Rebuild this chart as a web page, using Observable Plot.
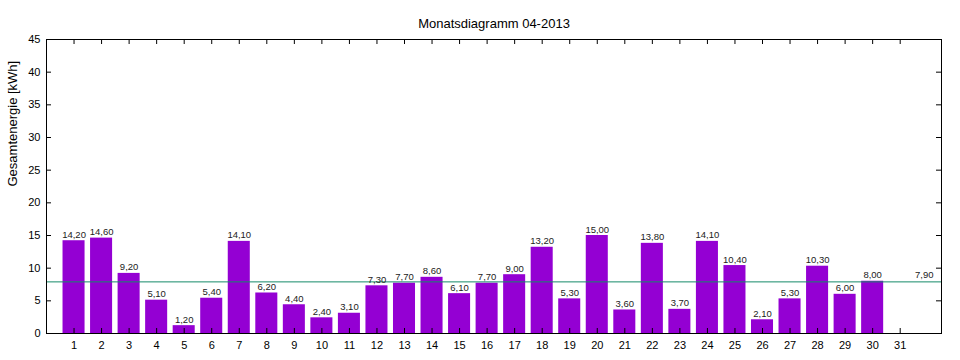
<!DOCTYPE html>
<html>
<head>
<meta charset="utf-8">
<script src="https://cdn.jsdelivr.net/npm/d3@7"></script>
<script src="https://cdn.jsdelivr.net/npm/@observablehq/plot@0.6"></script>
<style>
  html, body { margin: 0; padding: 0; background: #fff; }
  #chart { width: 960px; height: 360px; }
</style>
</head>
<body>
<div id="chart"></div>
<script>
const days = d3.range(1, 32);
const energy = [14.2, 14.6, 9.2, 5.1, 1.2, 5.4, 14.1, 6.2, 4.4, 2.4, 3.1, 7.3, 7.7, 8.6, 6.1,
                7.7, 9.0, 13.2, 5.3, 15.0, 3.6, 13.8, 3.7, 14.1, 10.4, 2.1, 5.3, 10.3, 6.0, 8.0, null];
const average = 7.9;
const yTicks = [0, 5, 10, 15, 20, 25, 30, 35, 40, 45];
const title = "Monatsdiagramm 04-2013";
const yLabel = "Gesamtenergie [kWh]";

const data = days.map((d, i) => ({day: d, value: energy[i]})).filter(d => d.value != null);
const fmt = v => v.toFixed(2).replace(".", ",");
const font = "Liberation Sans, Arial, sans-serif";

const W = 960, H = 360, mT = 39, mB = 27, mL = 46, mR = 19;
const plotW = W - mL - mR, plotH = H - mT - mB, tk = 5;

const chart = Plot.plot({
  width: W,
  height: H,
  marginTop: mT,
  marginBottom: mB,
  marginLeft: mL,
  marginRight: mR,
  style: {fontFamily: font, fontSize: "11px", color: "#000", background: "#fff"},
  x: {type: "linear", domain: [0, 32.5], label: null},
  y: {domain: [0, 45], label: null},
  marks: [
    Plot.rectY(data, {x1: d => d.day - 0.4, x2: d => d.day + 0.4, y1: 0, y2: "value", fill: "#9400d3"}),
    Plot.ruleY([average], {stroke: "#158a68", strokeWidth: 1}),
    Plot.text(data, {x: "day", y: "value", text: d => fmt(d.value), dy: -6, fontSize: 9.5, fill: "#222"}),
    Plot.text([average], {y: d => d, frameAnchor: "right", dx: -8, dy: -7, textAnchor: "end", text: d => fmt(d), fontSize: 9.5, fill: "#222"}),
    // inward ticks on all four sides
    Plot.tickX(days, {x: d => d, insetTop: plotH - tk, stroke: "#000"}),
    Plot.tickX(days, {x: d => d, insetBottom: plotH - tk, stroke: "#000"}),
    Plot.tickY(yTicks, {y: d => d, insetRight: plotW - tk, stroke: "#000"}),
    Plot.tickY(yTicks, {y: d => d, insetLeft: plotW - tk, stroke: "#000"}),
    Plot.frame({stroke: "#000"}),
    Plot.axisX(days, {anchor: "bottom", tickSize: 0, tickPadding: 8, fontSize: 11, tickFormat: d => String(d), label: null}),
    Plot.axisY(yTicks, {anchor: "left", tickSize: 0, tickPadding: 6, fontSize: 11, label: null}),
    Plot.text([title], {frameAnchor: "top", dy: -21, fontSize: 13, fill: "#000"}),
    Plot.text([yLabel], {frameAnchor: "left", dx: -34, rotate: -90, fontSize: 13, fill: "#000"})
  ]
});
document.getElementById("chart").appendChild(chart);
</script>
</body>
</html>
